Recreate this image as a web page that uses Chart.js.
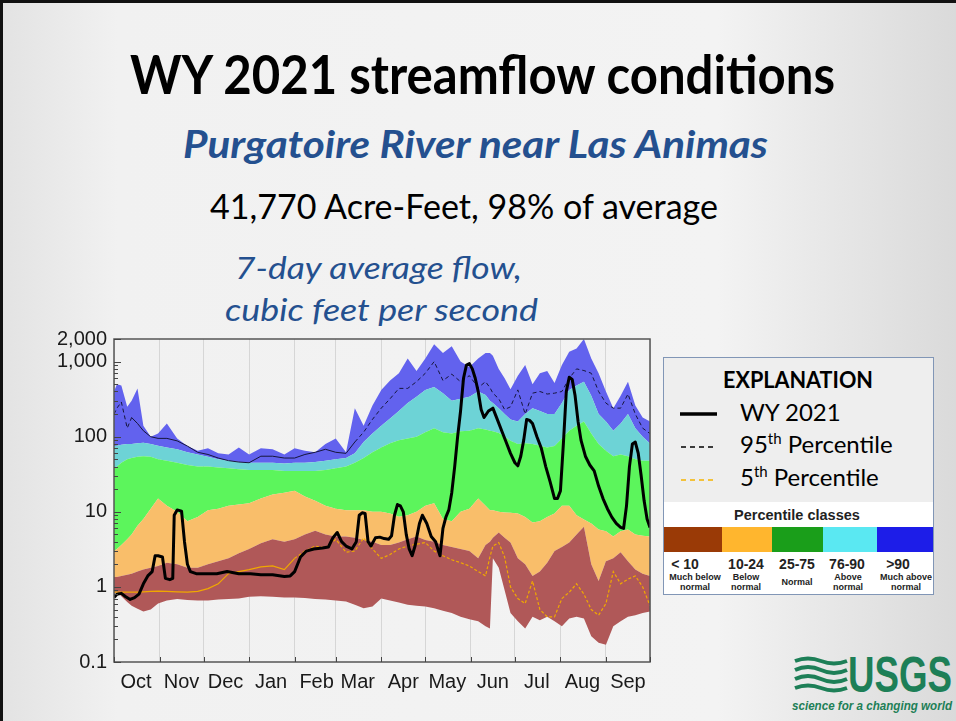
<!DOCTYPE html>
<html lang="en">
<head>
<meta charset="UTF-8">
<title>WY 2021 streamflow conditions</title>
<script src="https://cdn.jsdelivr.net/npm/chart.js"></script>
<style>
  html, body { margin: 0; padding: 0; }
  #slide {
    position: relative; width: 956px; height: 721px; overflow: hidden;
    box-sizing: border-box; border-top: 3px solid #111; border-left: 3px solid #111;
    background: linear-gradient(90deg, #e3e3e3 0%, #f1f1f1 12%, #f3f3f3 75%, #dadada 100%);
  }
  #art { position: absolute; left: -3px; top: -3px; }
  #chart { position: absolute; left: -3px; top: 317px; }
</style>
</head>
<body>
<div id="slide">
  <svg id="art" width="956" height="721">
    <text x="130" y="94" font-family="Lato" font-weight="700" font-size="54" fill="#000" textLength="705" lengthAdjust="spacingAndGlyphs">WY 2021 streamflow conditions</text>
    <text x="183" y="158" font-family="Lato" font-weight="700" font-style="italic" font-size="38" fill="#24508f" textLength="585" lengthAdjust="spacingAndGlyphs">Purgatoire River near Las Animas</text>
    <text x="210" y="219" font-family="Lato" font-size="35" fill="#000" textLength="508" lengthAdjust="spacingAndGlyphs">41,770 Acre-Feet, 98% of average</text>
    <text x="235" y="279" font-family="Lato" font-style="italic" font-size="31" fill="#24508f" textLength="287" lengthAdjust="spacingAndGlyphs">7-day average flow,</text>
    <text x="225" y="321" font-family="Lato" font-style="italic" font-size="31" fill="#24508f" textLength="313" lengthAdjust="spacingAndGlyphs">cubic feet per second</text>

    <!-- explanation box -->
    <rect x="663.5" y="357.5" width="270" height="237" fill="#eeeeee" stroke="#8196b6"/>
    <rect x="664" y="502" width="269" height="92" fill="#ffffff"/>
    <text x="723" y="388" font-family="Lato" font-weight="700" font-size="22" textLength="150" lengthAdjust="spacingAndGlyphs">EXPLANATION</text>
    <line x1="680" y1="414" x2="717" y2="414" stroke="#000" stroke-width="3.5"/>
    <text x="740" y="421" font-family="Lato" font-size="24">WY 2021</text>
    <line x1="681" y1="447" x2="715" y2="447" stroke="#000" stroke-width="1.3" stroke-dasharray="5 4"/>
    <text x="740" y="453" font-family="Lato" font-size="24">95<tspan font-size="15" dy="-9">th</tspan><tspan dy="9"> Percentile</tspan></text>
    <line x1="681" y1="480" x2="715" y2="480" stroke="#f5b400" stroke-width="1.3" stroke-dasharray="5 4"/>
    <text x="740" y="486" font-family="Lato" font-size="24">5<tspan font-size="15" dy="-9">th</tspan><tspan dy="9"> Percentile</tspan></text>

    <text x="797" y="520" text-anchor="middle" font-family="Liberation Sans" font-weight="700" font-size="14.5" fill="#222">Percentile classes</text>
    <rect x="664" y="527" width="58" height="25" fill="#9a3a06"/>
    <rect x="722" y="527" width="50" height="25" fill="#ffb62e"/>
    <rect x="772" y="527" width="51" height="25" fill="#1a9e1a"/>
    <rect x="823" y="527" width="54" height="25" fill="#5ae8f2"/>
    <rect x="877" y="527" width="56" height="25" fill="#1d1de8"/>
    <g font-family="Liberation Sans" font-weight="700" fill="#222" text-anchor="middle">
      <text x="685" y="569" font-size="14">&lt; 10</text>
      <text x="746" y="569" font-size="14">10-24</text>
      <text x="797" y="569" font-size="14">25-75</text>
      <text x="847" y="569" font-size="14">76-90</text>
      <text x="898" y="569" font-size="14">&gt;90</text>
      <text x="695" y="580" font-size="9">Much below</text>
      <text x="695" y="590" font-size="9">normal</text>
      <text x="746" y="580" font-size="9">Below</text>
      <text x="746" y="590" font-size="9">normal</text>
      <text x="797" y="585" font-size="9">Normal</text>
      <text x="848" y="580" font-size="9">Above</text>
      <text x="848" y="590" font-size="9">normal</text>
      <text x="906" y="580" font-size="9">Much above</text>
      <text x="906" y="590" font-size="9">normal</text>
    </g>

    <!-- USGS identifier -->
    <g stroke="#1d7f57" stroke-width="4" fill="none">
      <path d="M795,661 q13,-5 26,0 t26,0"/>
      <path d="M795,670 q13,-6 26,0 t26,0"/>
      <path d="M795,679 q13,-6 26,0 t26,0"/>
      <path d="M795,688 q13,-5 26,0 t26,0"/>
    </g>
    <text x="848" y="692" font-family="Liberation Sans" font-weight="700" font-size="50" fill="#1d7f57" textLength="104" lengthAdjust="spacingAndGlyphs">USGS</text>
    <text x="792" y="710" font-family="Liberation Sans" font-weight="700" font-style="italic" font-size="12.5" fill="#1d7f57" textLength="160" lengthAdjust="spacingAndGlyphs">science for a changing world</text>
  </svg>
  <canvas id="chart" width="660" height="380"></canvas>
</div>
<script>
// day of water year (0 = Oct 1)
const monthStarts = [0,31,61,92,123,151,182,212,243,273,304,335,365];
const monthLabels = ['Oct','Nov','Dec','Jan','Feb','Mar','Apr','May','Jun','Jul','Aug','Sep'];
const yMajor = [0.1,1,10,100,1000,2000];
const yTickLabels = ['0.1','1','10','100','1,000','2,000'];

// percentile bands, cfs
const days = [0,2,5,9,12,16,20,25,30,36,
  43,50,57,64,71,78,85,92,100,108,
  116,123,130,137,144,151,158,164,170,176,
  182,188,194,200,206,212,218,224,230,236,
  242,248,253,256,258,262,266,270,275,280,
  285,290,295,300,305,310,315,320,325,330,
  335,340,345,350,355,360,365];
const flowMin = [0.8,0.86,0.75,0.63,0.56,0.51,0.47,0.5,0.6,0.66,
  0.69,0.67,0.66,0.66,0.68,0.69,0.7,0.74,0.75,0.74,
  0.72,0.72,0.71,0.69,0.68,0.66,0.64,0.58,0.52,0.55,
  0.7,0.66,0.62,0.58,0.56,0.55,0.52,0.48,0.45,0.4,
  0.37,0.35,0.3,0.28,2.4,1.8,0.9,0.45,0.35,0.28,
  0.4,0.36,0.4,0.35,0.3,0.38,0.4,0.38,0.22,0.18,
  0.17,0.3,0.35,0.4,0.42,0.45,0.47];
const flowP10 = [1.35,1.35,1.4,1.45,1.5,1.6,1.7,1.8,1.9,2.1,
  2.0,1.8,1.8,2.0,2.2,2.4,2.8,3.2,3.8,4.3,
  4.0,4.3,5.0,5.6,5.0,4.7,4.7,4.5,4.2,4.0,
  3.6,3.6,3.9,4.3,4.7,4.2,4.0,3.6,3.4,3.2,
  3.0,2.4,3.6,4.0,4.5,5.3,4.5,3.9,2.4,2.0,
  1.4,1.6,2.1,3.0,3.4,3.9,5.0,6.3,2.0,1.2,
  2.2,2.4,2.9,2.2,1.7,1.5,1.4];
const flowP25 = [3.0,3.2,3.6,4.3,5.0,6.5,8.0,11,15,12,
  10,7.5,8.5,10.5,11,12,12.5,13,15,17,
  18,19,16,14,12,11,10.5,10.5,10.5,10,
  10,9.5,8.6,9,10,12,13,8,7.5,10,
  11,15,12,10.5,10.5,10,9.8,9.7,9.5,8.5,
  7.2,7.5,8.5,9.5,12,12,9,7.9,7,5.8,
  5.5,4.7,5.5,5.8,5,4.8,4.7];
const flowP75 = [38,40,45,50,52,54,55,54,50,48,
  45,42,40,40,39,38,37,36,36,36,
  35,35,35,35,36,38,40,45,52,62,
  72,82,90,95,100,115,130,115,110,118,
  120,130,125,120,118,112,100,88,80,82,
  80,76,72,75,95,120,140,160,110,80,
  65,55,58,55,50,48,48];
const flowP90 = [75,76,78,80,80,82,83,80,76,72,
  68,62,58,54,50,48,46,45,45,45,
  44,45,45,46,48,50,52,60,85,110,
  140,175,220,280,340,420,460,380,300,320,
  340,400,360,300,280,240,200,170,160,200,
  240,220,200,200,280,420,480,540,350,200,
  160,120,150,200,130,100,81];
const flowMax = [400,500,480,250,300,440,140,100,110,150,
  95,75,65,70,60,58,72,58,70,68,
  58,70,65,62,80,95,62,240,140,260,
  420,560,700,1100,750,1100,1700,1300,1600,1000,
  850,1100,1300,1300,1200,800,600,430,650,900,
  500,700,750,520,900,1350,1500,2000,1100,700,
  400,240,350,540,260,180,160];
const flowP95 = [200,240,290,130,180,150,120,100,95,95,
  88,75,62,58,52,48,46,45,55,55,
  52,52,58,62,68,62,60,85,115,170,
  240,320,440,440,540,700,1000,560,680,540,
  650,450,540,450,380,320,230,250,420,200,
  380,400,370,380,400,600,800,760,700,400,
  280,240,240,370,200,130,110];
const flowP5 = [0.85,0.85,0.85,0.85,0.85,0.85,0.86,0.87,0.88,0.87,
  0.86,0.85,0.87,0.95,1.1,1.5,1.6,1.7,1.85,1.9,
  1.7,2.4,3.0,3.5,3.3,4.3,2.9,3.0,4.5,3.2,
  2.4,2.7,3.2,3.5,3.7,3.9,3.0,2.6,2.3,2.1,
  1.9,1.6,1.4,2.5,3.5,3.9,2.5,1.0,0.7,0.6,
  1.2,0.5,0.4,0.4,0.7,0.85,1.1,0.8,0.5,0.42,
  0.6,1.6,1.1,1.27,1.4,1.0,0.56];

// WY 2021 7-day mean flow, cfs
const wyDays = [0,2,5,8,11,14,17,20,23,26,
  28,30,33,35,38,40,41,43,46,48,
  50,52,56,62,70,77,85,93,100,108,
  116,120,123,127,131,136,142,146,149,152,
  155,158,162,165,167,169,171,173,175,178,
  181,184,187,189,191,193,195,197,199,201,
  203,205,208,210,213,216,219,222,224,226,
  228,230,232,234,236,238,240,242,244,246,
  248,250,252,255,258,261,264,267,270,273,
  275,277,279,281,283,285,288,291,294,297,
  300,302,304,306,308,310,312,314,316,318,
  321,324,327,330,333,336,339,342,345,347,
  349,351,353,355,357,359,361,363,365];
const wyFlow = [0.72,0.8,0.82,0.74,0.68,0.72,0.8,1.1,1.4,1.6,
  2.6,2.6,2.5,1.3,1.25,1.3,9,10.6,10.2,4,
  2.0,1.6,1.5,1.5,1.5,1.6,1.5,1.5,1.45,1.45,
  1.38,1.4,1.6,2.5,3.0,3.2,3.3,3.4,4.5,5.3,
  4.0,3.5,3.2,4,9,9.7,9.5,4,3.5,4.5,
  4.6,4.4,4.3,4.8,9,12.5,12,10,5,3.2,
  2.6,3.5,7,9,7,4.7,4.0,2.6,6,8.5,
  10.6,18,40,100,220,600,900,940,800,600,
  400,230,180,220,240,170,120,85,60,45,
  41,55,90,170,165,150,100,70,40,25,
  15,15,19,80,400,620,580,350,160,90,
  55,42,35,22,15,11,8.5,7,6.2,6.0,
  12,40,80,85,60,30,14,8,6.2];

const yTicks = [];
[0.1,1,10,100,1000].forEach(d => {
  for (let k = 1; k <= 9; k++) {
    const v = parseFloat((k * d).toPrecision(3));
    if (v <= 2000) yTicks.push(v);
  }
});

function pts(xs, ys) { return xs.map((x, i) => ({x: x, y: ys[i]})); }
function band(label, values, color) {
  return { label: label, data: pts(days, values), fill: '-1', backgroundColor: color,
           borderWidth: 0, pointRadius: 0, order: 10 };
}

const frame = {
  id: 'frame',
  afterDraw(chart) {
    const {ctx, chartArea: a, scales} = chart;
    ctx.save();
    ctx.strokeStyle = '#555';
    ctx.lineWidth = 1.5;
    ctx.strokeRect(a.left, a.top, a.right - a.left, a.bottom - a.top);
    ctx.lineWidth = 1;
    ctx.strokeStyle = '#444';
    scales.y.ticks.forEach(t => {
      const py = Math.round(scales.y.getPixelForValue(t.value)) + 0.5;
      const len = yMajor.includes(t.value) ? 7 : 4;
      ctx.beginPath(); ctx.moveTo(a.left, py); ctx.lineTo(a.left + len, py); ctx.stroke();
    });
    scales.x.ticks.forEach(t => {
      const px = Math.round(scales.x.getPixelForValue(t.value)) + 0.5;
      ctx.beginPath(); ctx.moveTo(px, a.bottom); ctx.lineTo(px, a.bottom - 5); ctx.stroke();
    });
    ctx.restore();
  }
};

const tickFont = { family: '"Liberation Sans", Arial, sans-serif', size: 20 };

new Chart(document.getElementById('chart'), {
  type: 'line',
  data: {
    datasets: [
      { label: 'min', data: pts(days, flowMin), fill: false, borderWidth: 0, pointRadius: 0, order: 10 },
      band('<10', flowP10, '#b05858'),
      band('10-24', flowP25, '#f9be6a'),
      band('25-75', flowP75, '#5cf55c'),
      band('76-90', flowP90, '#6dd3d6'),
      band('>90', flowMax, '#6262ee'),
      { label: '95th Percentile', data: pts(days, flowP95), borderColor: '#16163c', borderWidth: 1,
        borderDash: [], pointRadius: 0, fill: false, order: 2,
        segment: { borderDash: c => (c.p0.parsed.x < 12 || c.p0.parsed.x > 158) ? [4, 3] : undefined } },
      { label: '5th Percentile', data: pts(days, flowP5), borderColor: '#f0a800', borderWidth: 1.2,
        borderDash: [], pointRadius: 0, fill: false, order: 1,
        segment: { borderDash: c => c.p0.parsed.x > 120 ? [3, 2] : undefined } },
      { label: 'WY 2021', data: pts(wyDays, wyFlow), borderColor: '#000', borderWidth: 3,
        borderJoinStyle: 'round', pointRadius: 0, fill: false, order: 0 }
    ]
  },
  options: {
    responsive: false,
    animation: false,
    devicePixelRatio: 1,
    layout: { padding: { top: 15, right: 10, left: 0, bottom: 0 } },
    plugins: { legend: { display: false }, tooltip: { enabled: false } },
    scales: {
      x: {
        type: 'linear', min: 0, max: 365,
        afterBuildTicks: s => { s.ticks = monthStarts.map(v => ({value: v})); },
        afterFit: s => { s.height = 38; },
        grid: { color: '#d6d6d6', lineWidth: 1, drawTicks: false },
        border: { display: false },
        ticks: { autoSkip: false, maxRotation: 0, labelOffset: 22, padding: 8, color: '#1a1a1a',
                 font: tickFont, callback: (v, i) => monthLabels[i] || '' }
      },
      y: {
        type: 'logarithmic', min: 0.1, max: 2000,
        afterBuildTicks: s => { s.ticks = yTicks.map(v => ({value: v})); },
        afterFit: s => { s.width = 114; },
        grid: { display: false, drawTicks: false },
        border: { display: false },
        ticks: { autoSkip: false, padding: 7, color: '#1a1a1a', font: tickFont,
                 callback: v => { const k = yMajor.indexOf(v); return k < 0 ? '' : yTickLabels[k]; } }
      }
    }
  },
  plugins: [frame]
});
</script>
</body>
</html>
